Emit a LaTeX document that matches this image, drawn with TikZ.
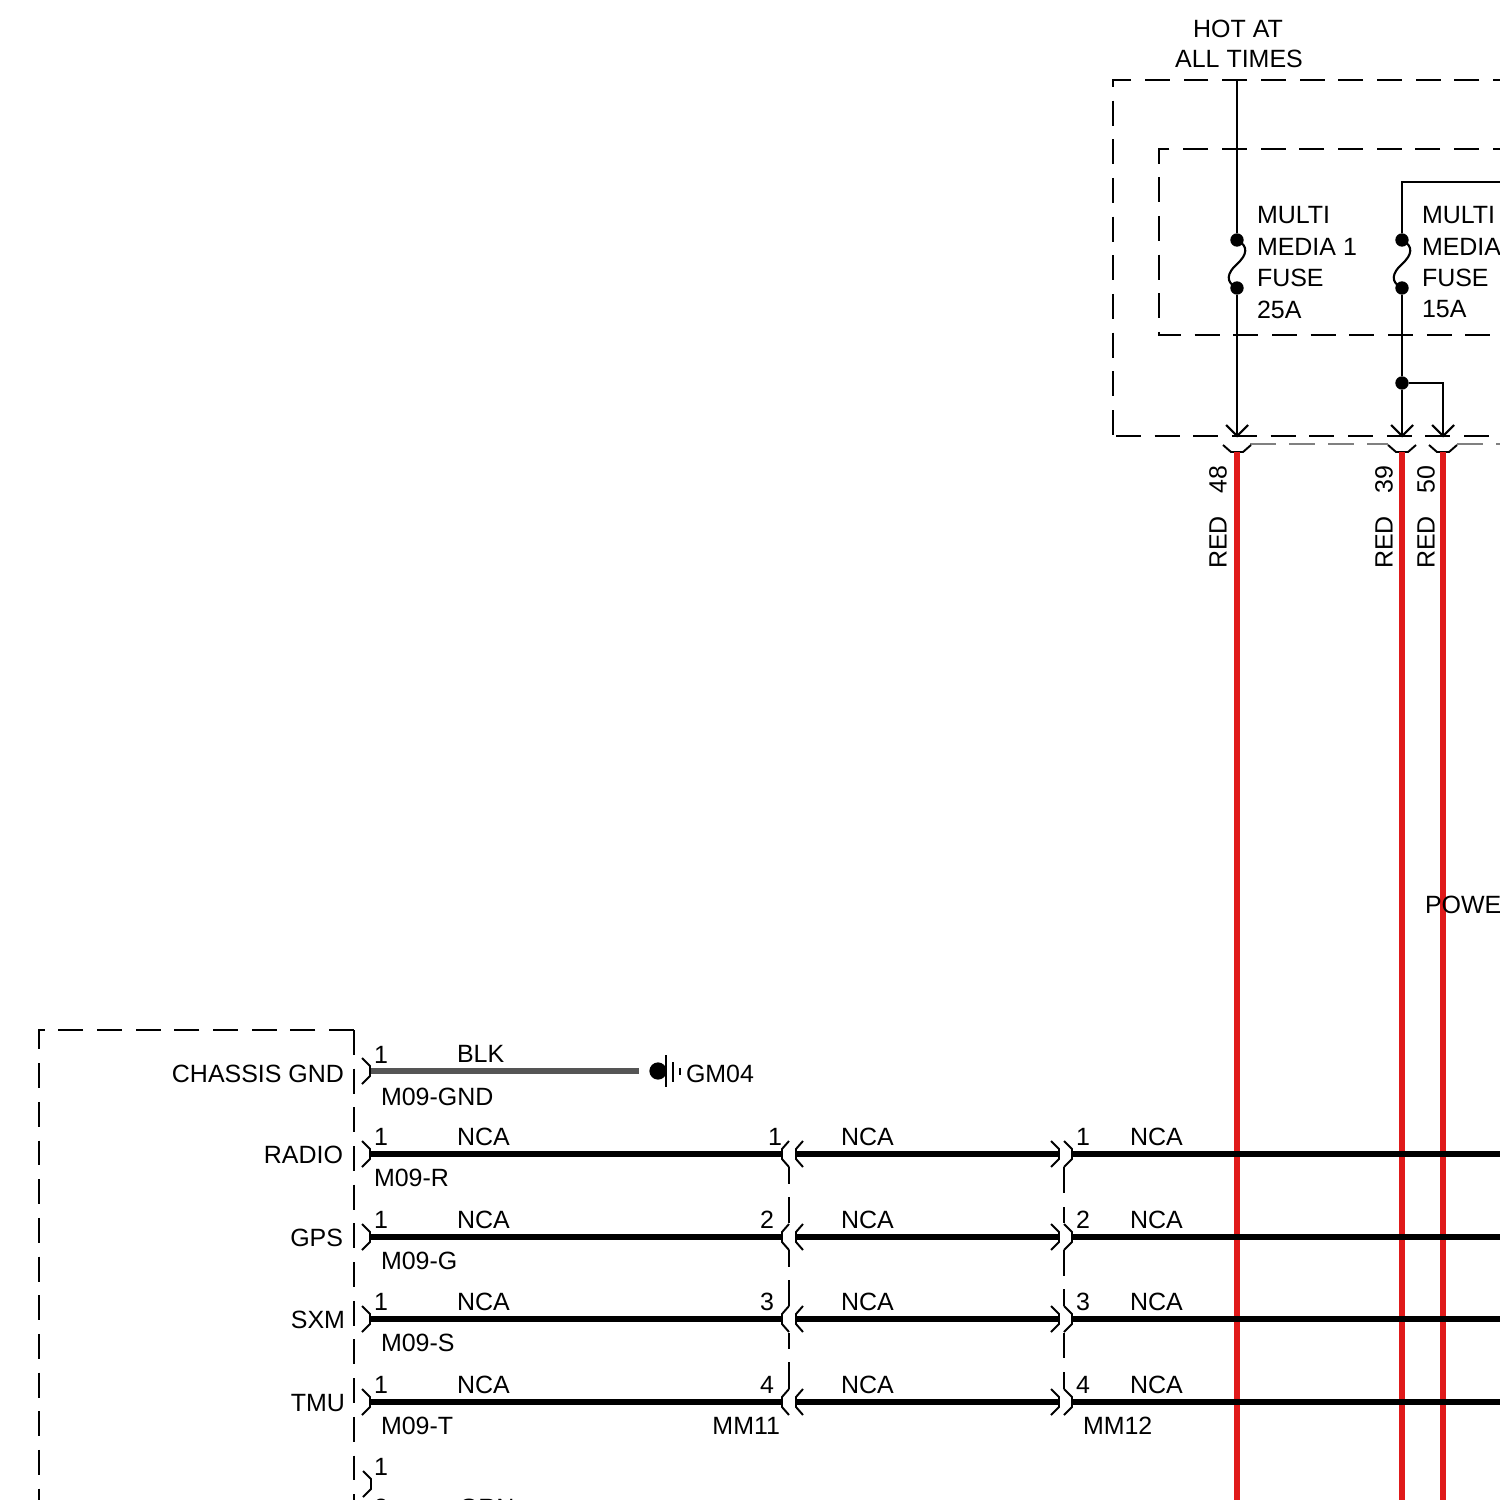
\documentclass[tikz,border=0pt]{standalone}
\usepackage{fontspec}
\setmainfont{Liberation Sans}
\usetikzlibrary{positioning}
\definecolor{wirered}{HTML}{E01A1A}
\definecolor{wiregray}{HTML}{555555}

\tikzset{
    txt/.style = {font=\fontsize{7.1pt}{8.5pt}\selectfont, inner sep=0pt, outer sep=0pt, yshift=-0.14pt},
    boxline/.style = {line width=0.6pt, dash pattern=on 7.1pt off 3.9pt},
    link/.style = {line width=0.6pt},
    pinline/.style = {line width=0.55pt},
    wire/.style = {line width=1.6pt},
    redwire/.style = {line width=1.5pt, draw=wirered},
    junc/.style = {circle, fill=black, inner sep=0pt, minimum size=3.8pt},
    plugR/.pic = {\draw[pinline] (-8,-13) -- (0,-5) -- (0,5) -- (-8,13);},
    plugL/.pic = {\draw[pinline] (7,-13) -- (0,-5) -- (0,5) -- (7,13);},
    socket/.pic = {\draw[pinline] (-14,-7) -- (-6,0) -- (6,0) -- (14,-7);},
    vee/.pic = {\draw[link] (-11,-11) -- (0,0) -- (11,-11);},
    fuse/.pic = {\draw[link] (0,0) .. controls (12,6) and (10,15) .. (0,24)
                    .. controls (-10,33) and (-12,42) .. (0,48);}
}

\begin{document}
\begin{tikzpicture}[x=0.01cm, y=-0.01cm]
    \useasboundingbox (0,0) rectangle (1500,1500);

    % boxes
    \draw[boxline, dash phase=5.1pt] (1500,80) -- (1113,80) -- (1113,436);
    \draw[boxline] (1116,436) -- (1500,436);
    \draw[boxline, dash phase=5pt] (1500,149) -- (1159,149) -- (1159,335) -- (1500,335);
    \draw[boxline] (354,1030) -- (39,1030) -- (39,1500);
    \draw[boxline] (354,1030) -- (354,1500);
    \draw[line width=0.55pt, draw=gray] (1250,444) -- (1276,444) (1289,444) -- (1315,444)
        (1328,444) -- (1354,444) (1367,444) -- (1388,444) (1457,444) -- (1483,444)
        (1496,444) -- (1500,444);

    % top
    \node[txt] (hot) at (1238,28) {HOT AT};
    \node[txt] (all) at (1239,58) {ALL TIMES};

    % fuses
    \coordinate (top48) at (1237,80);
    \coordinate (top39) at (1500,182);
    \coordinate (bend39) at (1402,182);
    \node[junc] (fa1) at (1237,240) {};
    \node[junc] (fa2) at (1237,288) {};
    \node[junc] (fb1) at (1402,240) {};
    \node[junc] (fb2) at (1402,288) {};
    \node[junc] (split) at (1402,383) {};
    \coordinate (bend50) at (1443,383);
    \coordinate (pin48) at (1237,436);
    \coordinate (pin39) at (1402,436);
    \coordinate (pin50) at (1443,436);
    \coordinate (sock48) at (1237,452);
    \coordinate (sock39) at (1402,452);
    \coordinate (sock50) at (1443,452);
    \coordinate (end48) at (1237,1500);
    \coordinate (end39) at (1402,1500);
    \coordinate (end50) at (1443,1500);

    \pic at (fa1) {fuse};
    \pic at (fb1) {fuse};
    \draw[link] (top48) -- (fa1) (fa2) -- (pin48);
    \draw[link] (top39) -- (bend39) -- (fb1) (fb2) -- (split) -- (pin39);
    \draw[link] (split) -- (bend50) -- (pin50);

    \foreach \n/\lx in {48/1218, 39/1384, 50/1426}{
        \pic at (pin\n) {vee};
        \pic at (sock\n) {socket};
        \node[txt, rotate=90] (num\n) at (\lx,479) {\n};
        \node[txt, rotate=90] (col\n) at (\lx,542) {RED};
    }

    % fuse labels
    \foreach \i/\a/\b/\c/\d/\lx in {a/MULTI/MEDIA 1/FUSE/25A/1257, b/MULTI/MEDIA/FUSE/15A/1422}{
        \node[txt, anchor=west] (\i1) at (\lx,215) {\a};
        \node[txt, anchor=west] (\i2) at (\lx,246) {\b};
        \node[txt, anchor=west] (\i3) at (\lx,277) {\c};
        \node[txt, anchor=west] (\i4) at (\lx,309) {\d};
    }

    % red wires go under the black ones
    \draw[redwire] (sock48) -- (end48);
    \draw[redwire] (sock39) -- (end39);
    \draw[redwire] (sock50) -- (end50);
    \node[txt, anchor=west] (pow) at (1425,904) {POWE};

    % rows
    \foreach \n/\y/\sig/\sx/\har/\hx/\lnum/\rnum in {
        1/1154/RADIO/343/M09-R/374/775/1083,
        2/1237/GPS/343/M09-G/381/767/1083,
        3/1319/SXM/345/M09-S/381/767/1083,
        4/1402/TMU/345/M09-T/381/767/1083}{
        \coordinate (mod\n) at (370,\y);
        \coordinate (ma\n) at (782,\y);
        \coordinate (mb\n) at (796,\y);
        \coordinate (mc\n) at (1059,\y);
        \coordinate (md\n) at (1072,\y);
        \coordinate (out\n) at (1500,\y);
        \draw[wire] (mod\n) -- (ma\n) (mb\n) -- (mc\n) (md\n) -- (out\n);
        \pic at (mod\n) {plugR};
        \pic at (ma\n) {plugL};
        \pic at (mb\n) {plugL};
        \pic at (mc\n) {plugR};
        \pic at (md\n) {plugR};
        \node[txt, anchor=east] (sig\n) at (\sx,\y+0.5) {\sig};
        \node[txt] (pa\n) at (381,\y-17.5) {1};
        \node[txt, anchor=west] (wa\n) at (457,\y-17.5) {NCA};
        \node[txt, anchor=west] (har\n) at (\hx,\y+23.5) {\har};
        \node[txt] (pb\n) at (\lnum,\y-17.5) {\n};
        \node[txt, anchor=west] (wb\n) at (841,\y-17.5) {NCA};
        \node[txt] (pc\n) at (\rnum,\y-17.5) {\n};
        \node[txt, anchor=west] (wc\n) at (1130,\y-17.5) {NCA};
    }

    % dashes between the inline pins
    \draw[pinline] (789,1167) -- (789,1184) (789,1197) -- (789,1223)
                   (789,1250) -- (789,1267) (789,1280) -- (789,1306)
                   (789,1333) -- (789,1349) (789,1362) -- (789,1389);
    \draw[pinline] (1064,1167) -- (1064,1193) (1064,1207) -- (1064,1223)
                   (1064,1250) -- (1064,1276) (1064,1289) -- (1064,1306)
                   (1064,1333) -- (1064,1358) (1064,1372) -- (1064,1389);

    \node[txt, anchor=east] (mm11) at (780,1425) {MM11};
    \node[txt, anchor=west] (mm12) at (1083,1425) {MM12};

    % ground
    \coordinate (modg) at (370,1071);
    \coordinate (gndend) at (639,1071);
    \node[circle, fill=black, inner sep=0pt, minimum size=4.9pt] (gnd) at (658,1071) {};
    \draw[line width=1.6pt, draw=wiregray] (modg) -- (gndend);
    \pic at (modg) {plugR};
    \draw[link] (666,1055) -- (666,1087) (673,1062) -- (673,1082) (680,1068) -- (680,1075);
    \node[txt, anchor=west] (gm04) at (686,1073) {GM04};
    \node[txt, anchor=east] (siggnd) at (344,1073) {CHASSIS GND};
    \node[txt] (pgnd) at (381,1054) {1};
    \node[txt, anchor=west] (blk) at (457,1053) {BLK};
    \node[txt, anchor=west] (hargnd) at (381,1096) {M09-GND};

    % last row, cut off
    \coordinate (mod5) at (371,1484);
    \pic at (mod5) {plugR};
    \node[txt] (pa5) at (381,1466) {1};
    \node[txt] (pa6) at (381,1507) {2};
    \node[txt, anchor=west] (wa5) at (459,1507) {GRN};
\end{tikzpicture}
\end{document}
